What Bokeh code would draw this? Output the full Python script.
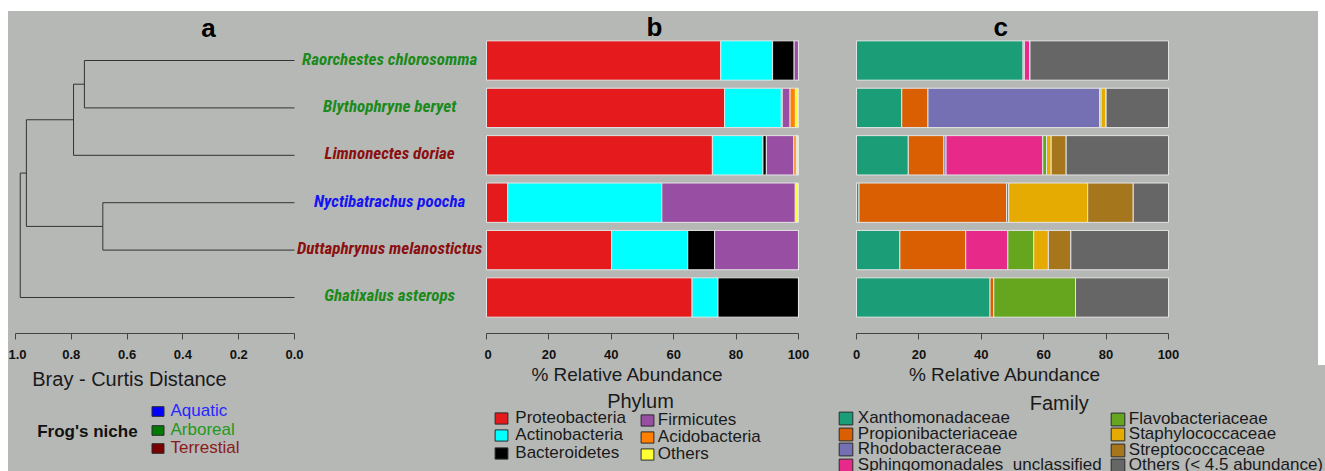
from bokeh.plotting import figure
from bokeh.models import (Range1d, FixedTicker, Label, Legend, LegendItem,
                          ColumnDataSource, Spacer, PrintfTickFormatter)
from bokeh.layouts import column, row
from bokeh.core.properties import value
from bokeh.embed import file_html
from bokeh.resources import INLINE

# ---------------- data ----------------
species = ["Raorchestes chlorosomma", "Blythophryne beryet", "Limnonectes doriae",
           "Nyctibatrachus poocha", "Duttaphrynus melanostictus", "Ghatixalus asterops"]
niche = ["Arboreal", "Arboreal", "Terrestial", "Aquatic", "Terrestial", "Arboreal"]
niche_names = ["Aquatic", "Arboreal", "Terrestial"]

# dendrogram merges: (child a, child b, Bray-Curtis height); leaves 0..5, clusters 6..
merges = [(0, 1, 0.753), (6, 2, 0.792), (3, 4, 0.687), (7, 8, 0.961), (9, 5, 0.983)]
dist_ticks = [1.0, 0.8, 0.6, 0.4, 0.2, 0.0]
pct_ticks = [0, 20, 40, 60, 80, 100]

phyla = ["Proteobacteria", "Actinobacteria", "Bacteroidetes", "Firmicutes", "Acidobacteria", "Others"]
proteobacteria = [75.1, 76.3, 72.4, 6.8, 40.1, 65.9]
actinobacteria = [16.6, 18.2, 16.2, 49.4, 24.4, 8.3]
bacteroidetes = [6.9, 0.3, 1.1, 0.0, 8.6, 25.8]
firmicutes = [1.4, 2.5, 8.8, 42.8, 26.9, 0.0]
acidobacteria = [0.0, 1.7, 0.8, 0.0, 0.0, 0.0]
others_phylum = [0.0, 1.0, 0.7, 1.0, 0.0, 0.0]

families = ["Xanthomonadaceae", "Propionibacteriaceae", "Rhodobacteraceae",
            "Sphingomonadales_unclassified", "Flavobacteriaceae", "Staphylococcaceae",
            "Streptococcaceae", "Others (< 4.5 abundance)"]
xanthomonadaceae = [53.4, 14.5, 16.6, 0.8, 13.9, 42.8]
propionibacteriaceae = [0.4, 8.4, 11.4, 47.3, 21.1, 1.2]
rhodobacteraceae = [0.0, 55.1, 0.7, 0.7, 0.0, 0.0]
sphingomonadales_unclassified = [1.8, 0.0, 31.0, 0.0, 13.5, 0.0]
flavobacteriaceae = [0.0, 0.4, 1.2, 0.0, 8.3, 26.2]
staphylococcaceae = [0.0, 1.6, 1.5, 25.3, 4.7, 0.0]
streptococcaceae = [0.0, 0.0, 4.8, 14.6, 7.2, 0.0]
others_family = [44.4, 20.0, 32.8, 11.3, 31.3, 29.8]

# ---------------- styles ----------------
BG = "#b6b8b6"
FONT = "Liberation Sans"
LABEL_FONT = "Roboto Condensed"
phylum_colors = ["#e41a1c", "#00ffff", "#000000", "#984ea3", "#ff7f00", "#ffff33"]
family_colors = ["#1b9e77", "#d95f02", "#7570b3", "#e7298a", "#66a61e", "#e6ab02", "#a6761d", "#666666"]
niche_text_color = {"Aquatic": "#1414f0", "Arboreal": "#1a8a1a", "Terrestial": "#8b0f0f"}
niche_legend_text = {"Aquatic": "#2626ff", "Arboreal": "#1f981f", "Terrestial": "#8b1a1a"}
niche_square = {"Aquatic": "#0000ff", "Arboreal": "#007a00", "Terrestial": "#7a0000"}

TOP_H = 354      # page y 11 -> 365
BOT_H = 106      # page y 365 -> 471
ITEM_H = 24
row_y = list(range(len(species), 0, -1))


def base_fig(w, h, xr, yr, **kw):
    p = figure(width=w, height=h, x_range=xr, y_range=yr, output_backend="svg",
               toolbar_location=None, background_fill_color=BG, border_fill_color=BG,
               outline_line_color=None, **kw)
    p.grid.visible = False
    return p


def top_fig(w, xr):
    return base_fig(w, TOP_H, xr, Range1d(0.2405, 7.0338), y_axis_location=None,
                    min_border_left=0, min_border_right=0, min_border_top=0,
                    min_border_bottom=32)


def style_axis(ax, ticks, bounds):
    ax.ticker = FixedTicker(ticks=ticks)
    ax.bounds = bounds
    ax.axis_line_color = "#444444"
    ax.major_tick_line_color = "#444444"
    ax.major_tick_out = 6
    ax.major_tick_in = 0
    ax.minor_tick_line_color = None
    ax.major_label_text_font = FONT
    ax.major_label_text_font_style = "bold"
    ax.major_label_text_font_size = "13px"
    ax.major_label_text_color = "#111111"
    ax.major_label_standoff = 10


def text_label(p, x, y, text, size, style="normal", align="center", baseline="middle",
               color="#1a1a1a"):
    p.add_layout(Label(x=x, y=y, text=text, text_font=FONT, text_font_size=size,
                       text_font_style=style, text_align=align, text_baseline=baseline,
                       text_color=color))


# ---------------- panel a: dendrogram ----------------
figA = top_fig(476, Range1d(1.02509, -0.68100))
style_axis(figA.xaxis[0], dist_ticks, (0, 1))
figA.xaxis[0].formatter = PrintfTickFormatter(format="%.1f")

ypos = {i: float(row_y[i]) for i in range(len(species))}
xpos = {i: 0.0 for i in range(len(species))}
sx0, sy0, sx1, sy1 = [], [], [], []
nid = len(species)
for a, b, h in merges:
    for c in (a, b):
        sx0.append(xpos[c]); sy0.append(ypos[c]); sx1.append(h); sy1.append(ypos[c])
    sx0.append(h); sy0.append(ypos[a]); sx1.append(h); sy1.append(ypos[b])
    xpos[nid] = h
    ypos[nid] = (ypos[a] + ypos[b]) / 2
    nid += 1
figA.segment(sx0, sy0, sx1, sy1, line_color="#333333", line_width=1)

label_x = -0.341
lab_src = ColumnDataSource(dict(x=[label_x] * len(species), y=row_y, text=species,
                                color=[niche_text_color[n] for n in niche]))
figA.text(x="x", y="y", text="text", text_color="color", source=lab_src,
          text_font=value(LABEL_FONT), text_font_style="bold italic", text_font_size="17px",
          text_align="center", text_baseline="middle", y_offset=-2)

text_label(figA, 0.308, 6.696, "a", "26px", "bold", color="#000000")

# ---------------- panel b: phylum ----------------
figB = top_fig(362, Range1d(-0.641, 115.385))
style_axis(figB.xaxis[0], pct_ticks, (0, 100))
srcB = ColumnDataSource(dict(y=row_y, Proteobacteria=proteobacteria, Actinobacteria=actinobacteria,
                             Bacteroidetes=bacteroidetes, Firmicutes=firmicutes,
                             Acidobacteria=acidobacteria, Others=others_phylum))
figB.hbar_stack(phyla, y="y", height=0.83, fill_color=phylum_colors, line_color="#e4e4e4",
                line_width=1, source=srcB)
text_label(figB, 53.8, 6.717, "b", "26px", "bold", color="#000000")

# ---------------- panel c: family ----------------
figC = top_fig(472, Range1d(-3.205, 148.077))
style_axis(figC.xaxis[0], pct_ticks, (0, 100))
fam_cols = [xanthomonadaceae, propionibacteriaceae, rhodobacteraceae, sphingomonadales_unclassified,
            flavobacteriaceae, staphylococcaceae, streptococcaceae, others_family]
srcC = ColumnDataSource(dict(y=row_y, **{f: v for f, v in zip(families, fam_cols)}))
figC.hbar_stack(families, y="y", height=0.83, fill_color=family_colors, line_color="#e4e4e4",
                line_width=1, source=srcC)
text_label(figC, 46.2, 6.717, "c", "26px", "bold", color="#000000")


# ---------------- axis titles + legends row ----------------
def bot_fig(w):
    return base_fig(w, BOT_H, Range1d(0, w), Range1d(BOT_H, 0), x_axis_location=None,
                    y_axis_location=None, min_border=0)


NAN = float("nan")


def one_item_legend(p, name, color, x, center, gw, gh, standoff, text_color="#1a1a1a"):
    r = p.rect(x=[NAN], y=[NAN], width=1, height=1, fill_color=color, line_color="#2a2a2a",
               line_width=1)
    lg = Legend(items=[LegendItem(label=name, renderers=[r])],
                location=(x, BOT_H - center - ITEM_H / 2),
                glyph_width=gw, glyph_height=gh, label_height=ITEM_H, label_standoff=standoff,
                label_text_font=FONT, label_text_font_size="17px", label_text_color=text_color,
                padding=0, margin=0, spacing=0, background_fill_alpha=0,
                border_line_color=None)
    p.add_layout(lg)


legA = bot_fig(476)
text_label(legA, 121, 13.5, "Bray - Curtis Distance", "20px")
text_label(legA, 28.7, 65.7, "Frog's niche", "17px", "bold", align="left", color="#111111")
for i, n in enumerate(niche_names):
    one_item_legend(legA, n, niche_square[n], 141.5, 46.3 + i * 18.35, 15, 12, 6,
                    niche_legend_text[n])

legB = bot_fig(336)
text_label(legB, 143, 9.2, "% Relative Abundance", "19px")
text_label(legB, 156, 35.7, "Phylum", "20px")
for i, (n, c) in enumerate(zip(phyla, phylum_colors)):
    col, r_ = divmod(i, 3)
    if col == 0:
        one_item_legend(legB, n, c, 9.3, 52.8 + r_ * 17.6, 16, 14, 6)
    else:
        one_item_legend(legB, n, c, 154.8, 55.3 + r_ * 17.0, 16, 14, 3)

legC = bot_fig(505)
text_label(legC, 184.5, 9.2, "% Relative Abundance", "19px")
text_label(legC, 238.7, 37.7, "Family", "20px")
for i, (n, c) in enumerate(zip(families, family_colors)):
    col, r_ = divmod(i, 4)
    if col == 0:
        one_item_legend(legC, n, c, 16.8, 53 + r_ * 15.6, 17, 16, 4)
    else:
        one_item_legend(legC, n, c, 288.8, 53.5 + r_ * 15.6, 17, 16, 3)

top_row = row(figA, figB, figC, styles={"background-color": BG})
bot_row = row(legA, legB, legC, styles={"background-color": BG})
body = column(Spacer(width=1317, height=11), top_row, bot_row)
layout = row(Spacer(width=8, height=471), body)
open("out.html", "w").write(file_html(layout, INLINE))
